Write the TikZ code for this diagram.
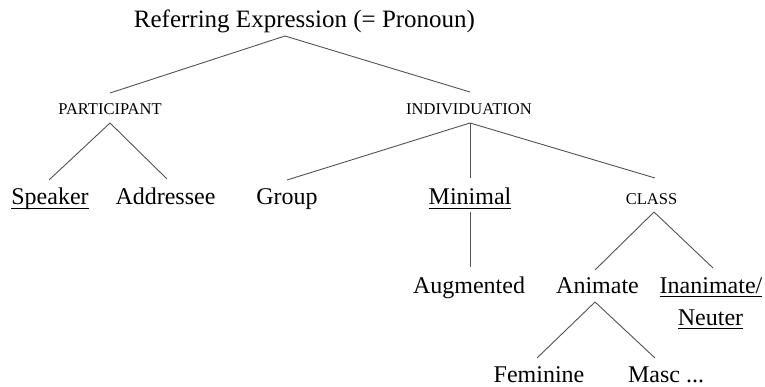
\documentclass[tikz,border=0pt]{standalone}
\usepackage{fontspec}
\usepackage{calc}
\setmainfont{Liberation Serif}
\newcommand\ulw[1]{\rlap{\rule[-3.6pt]{\widthof{#1}}{0.8pt}}#1}
\tikzset{
  lbl/.style={anchor=base, inner sep=0pt, font=\fontsize{24}{28}\selectfont},
  rootlbl/.style={anchor=base, inner sep=0pt, font=\fontsize{25}{29}\selectfont},
  sc/.style={anchor=base, inner sep=0pt, font=\fontsize{16.5}{19}\selectfont},
  edge/.style={draw=black!68, line width=0.9pt}
}
\begin{document}
\begin{tikzpicture}[x=1pt,y=1pt]
\useasboundingbox (0,0) rectangle (765,-387);
\node[rootlbl] (root) at (304.5,-28) {Referring Expression (= Pronoun)};
\node[sc] (part) at (110,-115) {PARTICIPANT};
\node[sc] (indiv) at (469,-115) {INDIVIDUATION};
\node[lbl] (spk) at (50,-205) {\ulw{Speaker}};
\node[lbl] (addr) at (165.5,-205) {Addressee};
\node[lbl] (grp) at (287,-205) {Group};
\node[lbl] (mini) at (470,-205) {\ulw{Minimal}};
\node[sc] (cls) at (651.5,-205) {CLASS};
\node[lbl] (aug) at (469,-293) {Augmented};
\node[lbl] (anim) at (597.5,-293) {Animate};
\node[lbl] (inan) at (711,-293) {\ulw{Inanimate/}};
\node[lbl] (neut) at (710.5,-325) {\ulw{Neuter}};
\node[lbl] (fem) at (539,-382) {Feminine};
\node[lbl] (masc) at (666,-382) {Masc ...};

\draw[edge] ([shift={(-19.5,-8)}]root.base) -- ([yshift=22]part.base);
\draw[edge] ([shift={(-19.5,-8)}]root.base) -- ([shift={(1,23)}]indiv.base);
\draw[edge] ([yshift=-8]part.base) -- ([shift={(-1,25)}]spk.base);
\draw[edge] ([yshift=-8]part.base) -- ([shift={(1.5,26)}]addr.base);
\draw[edge] ([shift={(1,-8)}]indiv.base) -- ([yshift=25]grp.base);
\draw[edge] ([shift={(1,-8)}]indiv.base) -- ([yshift=27]mini.base);
\draw[edge] ([shift={(1,-8)}]indiv.base) -- ([shift={(3.5,27)}]cls.base);
\draw[edge] ([yshift=-7]mini.base) -- ([shift={(0,26)}]mini.base|-aug.base);
\draw[edge] ([shift={(2.5,-7)}]cls.base) -- ([shift={(-2.5,23)}]anim.base);
\draw[edge] ([shift={(2.5,-7)}]cls.base) -- ([shift={(2,25)}]inan.base);
\draw[edge] ([shift={(-2.5,-9)}]anim.base) -- ([shift={(-2,24)}]fem.base);
\draw[edge] ([shift={(-2.5,-9)}]anim.base) -- ([shift={(-11,24)}]masc.base);
\end{tikzpicture}
\end{document}
